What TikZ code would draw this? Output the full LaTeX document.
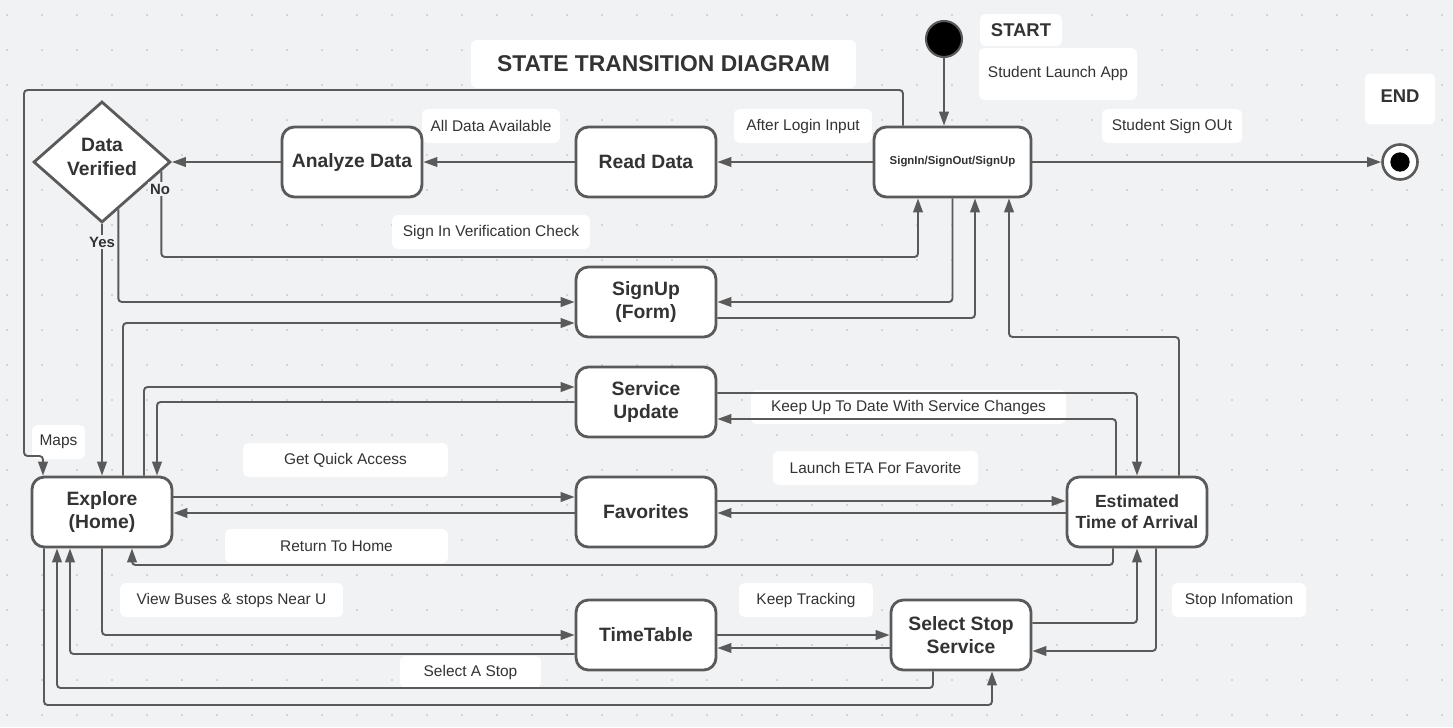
\documentclass[tikz,border=0pt]{standalone}
\usepackage{fontspec}
\setmainfont{Liberation Sans}
\usetikzlibrary{arrows.meta,shapes.geometric}
\definecolor{bg}{HTML}{F1F2F4}
\definecolor{linec}{HTML}{5A5A5A}
\definecolor{txt}{HTML}{333333}
\definecolor{dotc}{HTML}{B4B6BA}

\begin{document}
\begin{tikzpicture}[x=0.02cm,y=-0.02cm,
		state/.style={draw=linec,line width=1.6pt,fill=white,rounded corners=7pt,minimum width=2.8cm,minimum height=1.4cm,
			align=center,text=txt,font=\bfseries\fontsize{11}{13.5}\selectfont},
		lbl/.style={fill=white,rounded corners=3pt,minimum height=0.68cm,minimum width=#1,inner sep=0pt,text=txt,
			font=\fontsize{8.8}{10}\selectfont},
		lbl/.default=2.76cm,
		arr/.style={draw=linec,line width=1.1pt,rounded corners=2pt,-{Triangle[length=8pt,width=5.5pt]}},
		yn/.style={fill=bg,inner sep=1pt,text=txt,font=\bfseries\fontsize{8.5}{10}\selectfont}]
		
		%canvas
		\useasboundingbox (0,0) rectangle (1453,727);
		\fill[bg] (0,0) rectangle (1453,727);
		\foreach \x in {7,42,...,1452}
		\foreach \y in {15,50,...,715}
		\fill[dotc] (\x,\y) circle (0.55pt);
		
		%labels
		\node[lbl=7.7cm,minimum height=0.96cm,font=\bfseries\fontsize{13}{15}\selectfont] (title) at (663.5,64) {STATE TRANSITION DIAGRAM};
		\node[lbl=1.64cm,minimum height=0.64cm,font=\bfseries\fontsize{10.5}{12}\selectfont] (startlbl) at (1021,30) {START};
		\node[lbl=3.16cm,minimum height=1.04cm] (launch) at (1058,74) {Student Launch App};
		\node[lbl=1.4cm,minimum height=1.02cm,text depth=3.4pt,font=\bfseries\fontsize{10.5}{12}\selectfont] (endlbl) at (1400,99) {END};
		\node[lbl=2.8cm] (signoutlbl) at (1172,126) {Student Sign OUt};
		\node[lbl] (loginlbl) at (803,126) {After Login Input};
		\node[lbl] (availlbl) at (491,126) {All Data Available};
		\node[lbl=3.96cm] (checklbl) at (491,232) {Sign In Verification Check};
		\node[lbl=6.3cm] (changelbl) at (908.5,407) {Keep Up To Date With Service Changes};
		\node[lbl=4.1cm] (quicklbl) at (345.5,460) {Get Quick Access};
		\node[lbl=1.06cm] (mapslbl) at (58.5,442) {Maps};
		\node[lbl=4.1cm] (etalbl) at (875.5,468) {Launch ETA For Favorite};
		\node[lbl=4.46cm] (homelbl) at (336.5,546) {Return To Home};
		\node[lbl=4.46cm] (nearlbl) at (231.5,600) {View Buses \& stops Near U};
		\node[lbl=2.68cm] (tracklbl) at (806,600) {Keep Tracking};
		\node[lbl=2.82cm,minimum height=0.64cm] (selectlbl) at (470.5,672) {Select A Stop};
		\node[lbl=2.68cm] (infolbl) at (1239,600) {Stop Infomation};
		
		%states
		\node[circle,draw=linec,line width=1.2pt,fill=black,minimum size=0.72cm] (start) at (944,39) {};
		\node[circle,draw=linec,line width=1.5pt,fill=white,minimum size=0.7cm] (finish) at (1400,162) {};
		\fill[black] (finish) circle (5.5pt);
		\node[state,minimum width=3.14cm,font=\bfseries\fontsize{6.5}{8}\selectfont] (signin) at (952.5,162) {SignIn/SignOut/SignUp};
		\node[state] (read) at (646,162) {Read Data};
		\node[state] (analyze) at (352,162) {Analyze Data};
		\node[diamond,draw=linec,line width=1.6pt,fill=white,inner sep=0pt,minimum width=2.74cm,minimum height=2.42cm,
			text depth=5.6pt,align=center,text=txt,font=\bfseries\fontsize{11}{13.5}\selectfont] (dv) at (102,162) {Data\\Verified};
		\node[state] (signup) at (646,302) {SignUp\\(Form)};
		\node[state] (service) at (646,402) {Service\\Update};
		\node[state] (explore) at (102,512) {Explore\\(Home)};
		\node[state] (fav) at (646,512) {Favorites};
		\node[state,font=\bfseries\fontsize{10}{12}\selectfont] (eta) at (1137,512) {Estimated\\Time of Arrival};
		\node[state] (tt) at (646,635) {TimeTable};
		\node[state] (ss) at (961,635) {Select Stop\\Service};
		
		%transitions
		\draw[arr] (start) -- (start |- signin.north);
		\draw[arr] (signin) -- (read);
		\draw[arr] (read) -- (analyze);
		\draw[arr] (analyze) -- (dv);
		\draw[arr] (signin) -- (finish);
		\draw[arr] (signin.north -| 903,0) |- (24,90) |- (43,456) -- (explore.north -| 43,0);
		\draw[arr] (dv) -- (explore);
		\draw[arr] (dv.-9) |- (918,257) -- (signin.south -| 918,0);
		\draw[arr] (dv.-71) |- (signup.west);
		\draw[arr] (explore.north -| 123,0) |- (signup.west |- 0,323);
		\draw[arr] (signin.south) |- (signup.east);
		\draw[arr] (signup.east |- 0,318) -| (signin.south -| 975,0);
		\draw[arr] (eta.north -| 1179,0) |- (1009,337) -- (signin.south -| 1009,0);
		\draw[arr] (explore.north -| 144,0) |- (service.west |- 0,387);
		\draw[arr] (service.west) -| (explore.north -| 157,0);
		\draw[arr] (service.east |- 0,393) -| (eta.north);
		\draw[arr] (eta.north -| 1116,0) |- (service.east |- 0,419);
		\draw[arr] (explore.east |- 0,497) -- (fav.west |- 0,497);
		\draw[arr] (fav.west |- 0,513) -- (explore.east |- 0,513);
		\draw[arr] (fav.east |- 0,501) -- (eta.west |- 0,501);
		\draw[arr] (eta.west |- 0,513) -- (fav.east |- 0,513);
		\draw[arr] (eta.south -| 1113,0) |- (132,565) -- (explore.south -| 132,0);
		\draw[arr] (explore.south) |- (tt.west);
		\draw[arr] (tt.west |- 0,654) -| (explore.south -| 70,0);
		\draw[arr] (tt) -- (ss);
		\draw[arr] (ss.west |- 0,648) -- (tt.east |- 0,648);
		\draw[arr] (ss.south -| 933,0) |- (57,688) -- (explore.south -| 57,0);
		\draw[arr] (explore.south -| 44,0) |- (992,705) -- (ss.south -| 992,0);
		\draw[arr] (ss.east |- 0,623) -| (eta.south);
		\draw[arr] (eta.south -| 1156,0) |- (ss.east |- 0,651);
		
		%guards
		\node[yn] (no) at (160,189) {No};
		\node[yn] (yes) at (102,242) {Yes};
		
	\end{tikzpicture}
\end{document}
